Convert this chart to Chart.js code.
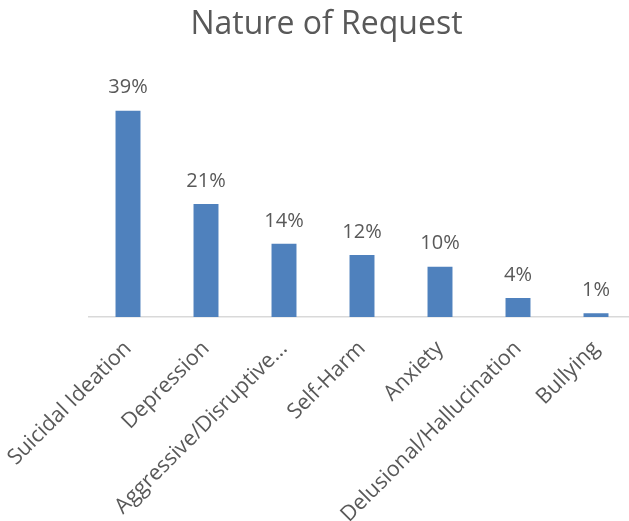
<!DOCTYPE html>
<html>
<head>
<meta charset="utf-8">
<script src="https://cdn.jsdelivr.net/npm/chart.js@4.4.1/dist/chart.umd.min.js"></script>
<style>
    html, body { margin: 0; padding: 0; background: #ffffff; overflow: hidden; }
    #wrap { width: 640px; height: 521px; }
</style>
</head>
<body>
<div id="wrap"><canvas id="requestChart"></canvas></div>
<script>
// categories and values
const categories = ['Suicidal Ideation', 'Depression', 'Aggressive/Disruptive...', 'Self-Harm', 'Anxiety', 'Delusional/Hallucination', 'Bullying'];
const percentValues = [38.9, 21.3, 13.8, 11.7, 9.5, 3.6, 0.7];

const textColor = '#595959';
const fontFamily = '"Open Sans", sans-serif';

// draws the percentage above each bar
const valueLabels = {
    id: 'valueLabels',
    afterDatasetsDraw(chart) {
        const ctx = chart.ctx;
        const meta = chart.getDatasetMeta(0);
        ctx.save();
        ctx.font = '20px ' + fontFamily;
        ctx.fillStyle = textColor;
        ctx.textAlign = 'center';
        ctx.textBaseline = 'middle';
        meta.data.forEach(function (bar, i) {
            ctx.fillText(Math.round(percentValues[i]) + '%', bar.x, bar.y - 23);
        });
        ctx.restore();
    }
};

const data = {
    labels: categories,
    datasets: [{
        label: 'Nature of Request',
        backgroundColor: '#4f81bd',
        data: percentValues,
        categoryPercentage: 1,
        barPercentage: 0.32
    }]
};

const config = {
    type: 'bar',
    data: data,
    options: {
        responsive: true,
        maintainAspectRatio: false,
        animation: false,
        layout: {
            padding: { left: 18, right: 5, top: 0, bottom: 0 }
        },
        plugins: {
            legend: { display: false },
            tooltip: { enabled: false },
            title: {
                display: true,
                text: 'Nature of Request',
                color: textColor,
                font: { family: fontFamily, size: 32, weight: 'normal', lineHeight: 1.2 },
                padding: { top: 6, bottom: 34 }
            }
        },
        scales: {
            x: {
                grid: { display: false, drawTicks: false },
                border: { display: true, color: '#d9d9d9', width: 1.5 },
                ticks: {
                    color: textColor,
                    font: { family: fontFamily, size: 21.5 },
                    maxRotation: 45,
                    minRotation: 45,
                    autoSkip: false,
                    padding: 19,
                    labelOffset: 0
                },
                afterFit: function (scale) {
                    scale.height = 204;
                    scale.paddingLeft = 0;
                    scale.paddingRight = 0;
                }
            },
            y: {
                min: 0,
                max: 45,
                grid: { display: false, drawTicks: false },
                border: { display: false },
                ticks: { display: false },
                afterFit: function (scale) { scale.width = 71; }
            }
        }
    },
    plugins: [valueLabels]
};

// render the chart
const requestChart = new Chart(document.getElementById('requestChart'), config);
</script>
</body>
</html>
